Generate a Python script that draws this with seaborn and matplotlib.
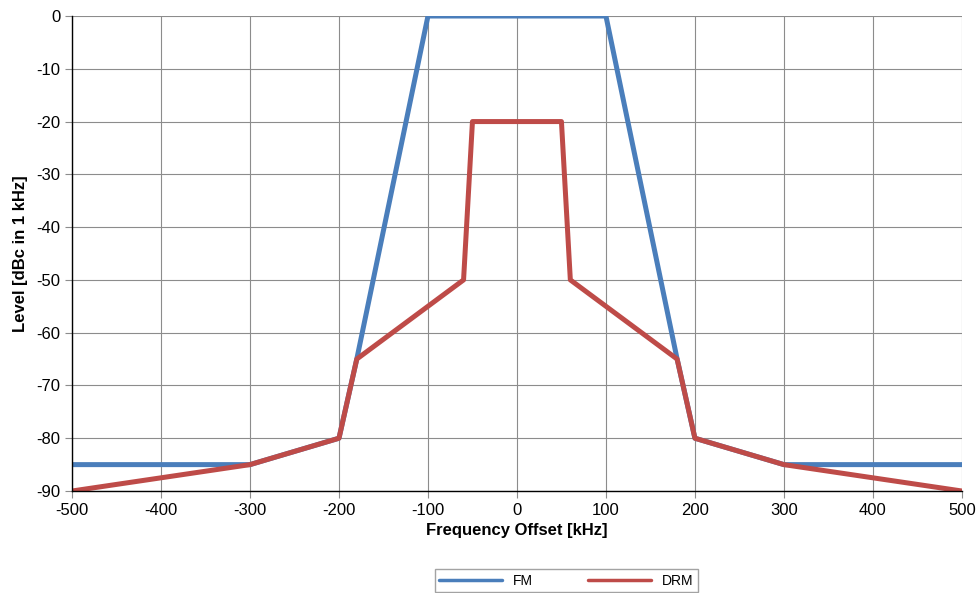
import numpy as np
import pandas as pd
import matplotlib
matplotlib.use("Agg")
import matplotlib.pyplot as plt
import seaborn as sns

sns.set_style("white")
plt.rcParams['font.family'] = ['Liberation Sans', 'DejaVu Sans']
plt.rcParams['axes.unicode_minus'] = False
plt.rcParams['text.color'] = 'black'
plt.rcParams['xtick.labelcolor'] = 'black'
plt.rcParams['ytick.labelcolor'] = 'black'
plt.rcParams['axes.labelcolor'] = 'black'

# spectrum masks (frequency offset in kHz, level in dBc in 1 kHz)
fm_freq = [-500, -300, -200, -180, -100, 100, 180, 200, 300, 500]
fm_level = [-85, -85, -80, -65, 0, 0, -65, -80, -85, -85]

drm_freq = [-500, -300, -200, -180, -60, -50, 50, 60, 180, 200, 300, 500]
drm_level = [-90, -85, -80, -65, -50, -20, -20, -50, -65, -80, -85, -90]

df = pd.concat([
    pd.DataFrame({'freq': fm_freq, 'level': fm_level, 'signal': 'FM'}),
    pd.DataFrame({'freq': drm_freq, 'level': drm_level, 'signal': 'DRM'}),
])

fig = plt.figure(figsize=(9.8, 5.93), dpi=100)
ax = fig.add_axes([0.0735, 0.172, 0.908, 0.801])

sns.lineplot(data=df, x='freq', y='level', hue='signal', sort=False,
             palette={'FM': '#4A7EBB', 'DRM': '#BE4B48'},
             linewidth=3.6, ax=ax, legend=True)

ax.set_xlim(-500, 500)
ax.set_ylim(-90, 0)
ax.set_xticks(np.arange(-500, 501, 100))
ax.set_yticks(np.arange(-90, 1, 10))
ax.grid(True, color='#8c8c8c', linewidth=0.8)
ax.set_axisbelow(True)
for side in ['top', 'right']:
    ax.spines[side].set_visible(False)
for side in ['left', 'bottom']:
    ax.spines[side].set_color('black')
    ax.spines[side].set_linewidth(1.0)
ax.tick_params(axis='both', direction='out', length=5, width=0.8,
               color='#8c8c8c', labelsize=12, left=True, bottom=True)

ax.set_xlabel('Frequency Offset [kHz]', fontsize=12, fontweight='bold', labelpad=4)
ax.set_ylabel('Level [dBc in 1 kHz]', fontsize=12, fontweight='bold', labelpad=6)

handles, labels = ax.get_legend_handles_labels()
ax.legend(handles, labels, loc='center', bbox_to_anchor=(0.578, 0.021),
          bbox_transform=fig.transFigure, ncol=2, frameon=True, fancybox=False,
          edgecolor='#8c8c8c', fontsize=10, handlelength=4.5, columnspacing=4,
          borderpad=0.3)
for line in ax.get_legend().get_lines():
    line.set_linewidth(2.5)

fig.savefig('out.png', dpi=100)
